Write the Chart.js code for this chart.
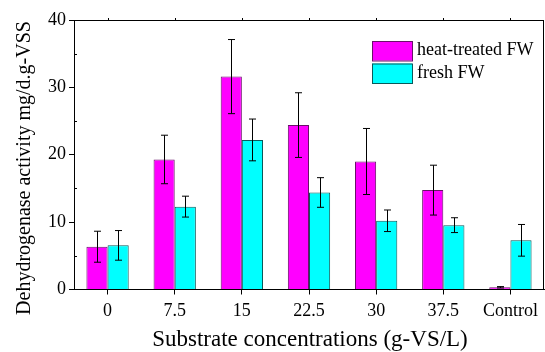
<!DOCTYPE html>
<html>
<head>
<meta charset="utf-8">
<script src="https://cdn.jsdelivr.net/npm/chart.js@4.4.0/dist/chart.umd.min.js"></script>
<style>
html,body{margin:0;padding:0;background:#fff;}
#wrap{width:545px;height:352px;position:relative;}
</style>
</head>
<body>
<div id="wrap"><canvas id="c" width="545" height="352"></canvas></div>
<script>
const categories = ['0', '7.5', '15', '22.5', '30', '37.5', 'Control'];
const heatTreated = [6.35, 19.3, 31.6, 24.4, 19.0, 14.75, 0.33];
const heatTreatedErr = [2.3, 3.6, 5.5, 4.8, 4.9, 3.7, 0.1];
const freshFW = [6.55, 12.3, 22.2, 14.4, 10.2, 9.55, 7.3];
const freshFWErr = [2.2, 1.55, 3.1, 2.2, 1.6, 1.1, 2.35];
const yTicks = [0, 10, 20, 30, 40];
const yMinorTicks = [5, 15, 25, 35];
const seriesLabels = ['heat-treated FW', 'fresh FW'];
const yTitle = 'Dehydrogenase activity mg/d.g-VSS';
const xTitle = 'Substrate concentrations (g-VS/L)';

const SERIF = '"Liberation Serif", "Times New Roman", serif';

const extrasPlugin = {
  id: 'extras',
  afterDatasetsDraw(chart) {
    const ctx = chart.ctx;
    const ca = chart.chartArea;
    const xs = chart.scales.x, ys = chart.scales.y;
    ctx.save();
    // error bars
    const errs = [heatTreatedErr, freshFWErr];
    chart.data.datasets.forEach((ds, di) => {
      const meta = chart.getDatasetMeta(di);
      meta.data.forEach((bar, i) => {
        const v = ds.data[i], e = errs[di][i];
        const x = Math.round(bar.x) + 0.5;
        const yT = ys.getPixelForValue(v + e);
        const yB = ys.getPixelForValue(Math.max(0, v - e));
        ctx.strokeStyle = '#000';
        ctx.lineWidth = 1;
        ctx.beginPath();
        ctx.moveTo(x, yT); ctx.lineTo(x, yB);
        ctx.moveTo(x - 3.5, yT); ctx.lineTo(x + 3.5, yT);
        ctx.moveTo(x - 3.5, yB); ctx.lineTo(x + 3.5, yB);
        ctx.stroke();
      });
    });
    // frame top & right
    ctx.strokeStyle = '#000';
    ctx.lineWidth = 1;
    ctx.beginPath();
    ctx.moveTo(ca.left, Math.round(ca.top) + 0.5);
    ctx.lineTo(ca.right, Math.round(ca.top) + 0.5);
    ctx.moveTo(Math.round(ca.right) - 0.5, ca.top);
    ctx.lineTo(Math.round(ca.right) - 0.5, ca.bottom);
    ctx.stroke();
    // minor y ticks (inward)
    ctx.beginPath();
    yMinorTicks.forEach(t => {
      const y = Math.round(ys.getPixelForValue(t)) + 0.5;
      ctx.moveTo(ca.left, y); ctx.lineTo(ca.left + 3, y);
    });
    // top ticks at categories
    categories.forEach((c, i) => {
      const x = Math.round(xs.getPixelForValue(i)) + 0.5;
      ctx.moveTo(x, ca.top); ctx.lineTo(x, ca.top - 2);
    });
    ctx.stroke();
    // legend
    const lx = 372, ly = [41, 63.5], bw = 40, bh = 19.5;
    chart.data.datasets.forEach((ds, di) => {
      ctx.fillStyle = ds.backgroundColor;
      ctx.fillRect(lx, ly[di], bw, bh);
      ctx.strokeStyle = ds.borderColor;
      ctx.lineWidth = 1;
      ctx.strokeRect(lx + 0.5, ly[di] + 0.5, bw, bh);
      ctx.fillStyle = '#000';
      ctx.font = '18px ' + SERIF;
      ctx.textAlign = 'left';
      ctx.textBaseline = 'middle';
      ctx.fillText(ds.label, lx + bw + 5, ly[di] + bh / 2);
    });
    // axis titles
    ctx.fillStyle = '#000';
    ctx.font = '20px ' + SERIF;
    ctx.textAlign = 'center';
    ctx.textBaseline = 'middle';
    ctx.save();
    ctx.translate(25, 168);
    ctx.rotate(-Math.PI / 2);
    ctx.fillText(yTitle, 0, 0);
    ctx.restore();
    ctx.font = '23px ' + SERIF;
    ctx.fillText(xTitle, 310, 340);
    ctx.restore();
  }
};

new Chart(document.getElementById('c'), {
  type: 'bar',
  data: {
    labels: categories,
    datasets: [
      { label: seriesLabels[0], data: heatTreated, backgroundColor: '#FF00FF', borderColor: '#6a106a', borderWidth: 1 },
      { label: seriesLabels[1], data: freshFW, backgroundColor: '#00FFFF', borderColor: '#0a5a5a', borderWidth: 1 }
    ]
  },
  options: {
    responsive: false,
    animation: false,
    devicePixelRatio: 1,
    layout: { padding: { top: 20, right: 1, left: 0, bottom: 0 } },
    plugins: { legend: { display: false }, tooltip: { enabled: false } },
    datasets: { bar: { categoryPercentage: 0.63, barPercentage: 1.0 } },
    scales: {
      x: {
        afterFit(s) { s.height = 62.5; },
        grid: { drawOnChartArea: false, drawTicks: true, tickLength: 5, color: '#000', offset: false },
        border: { display: true, color: '#000', width: 1 },
        ticks: { color: '#000', font: { family: SERIF, size: 18 }, padding: 6, maxRotation: 0 }
      },
      y: {
        min: 0, max: 40,
        afterFit(s) { s.width = 74; },
        afterBuildTicks(s) { s.ticks = yTicks.map(v => ({ value: v })); },
        grid: { drawOnChartArea: false, drawTicks: true, tickLength: 5, color: '#000' },
        border: { display: true, color: '#000', width: 1 },
        ticks: { color: '#000', font: { family: SERIF, size: 18 }, padding: 3 }
      }
    }
  },
  plugins: [extrasPlugin]
});
</script>
</body>
</html>
